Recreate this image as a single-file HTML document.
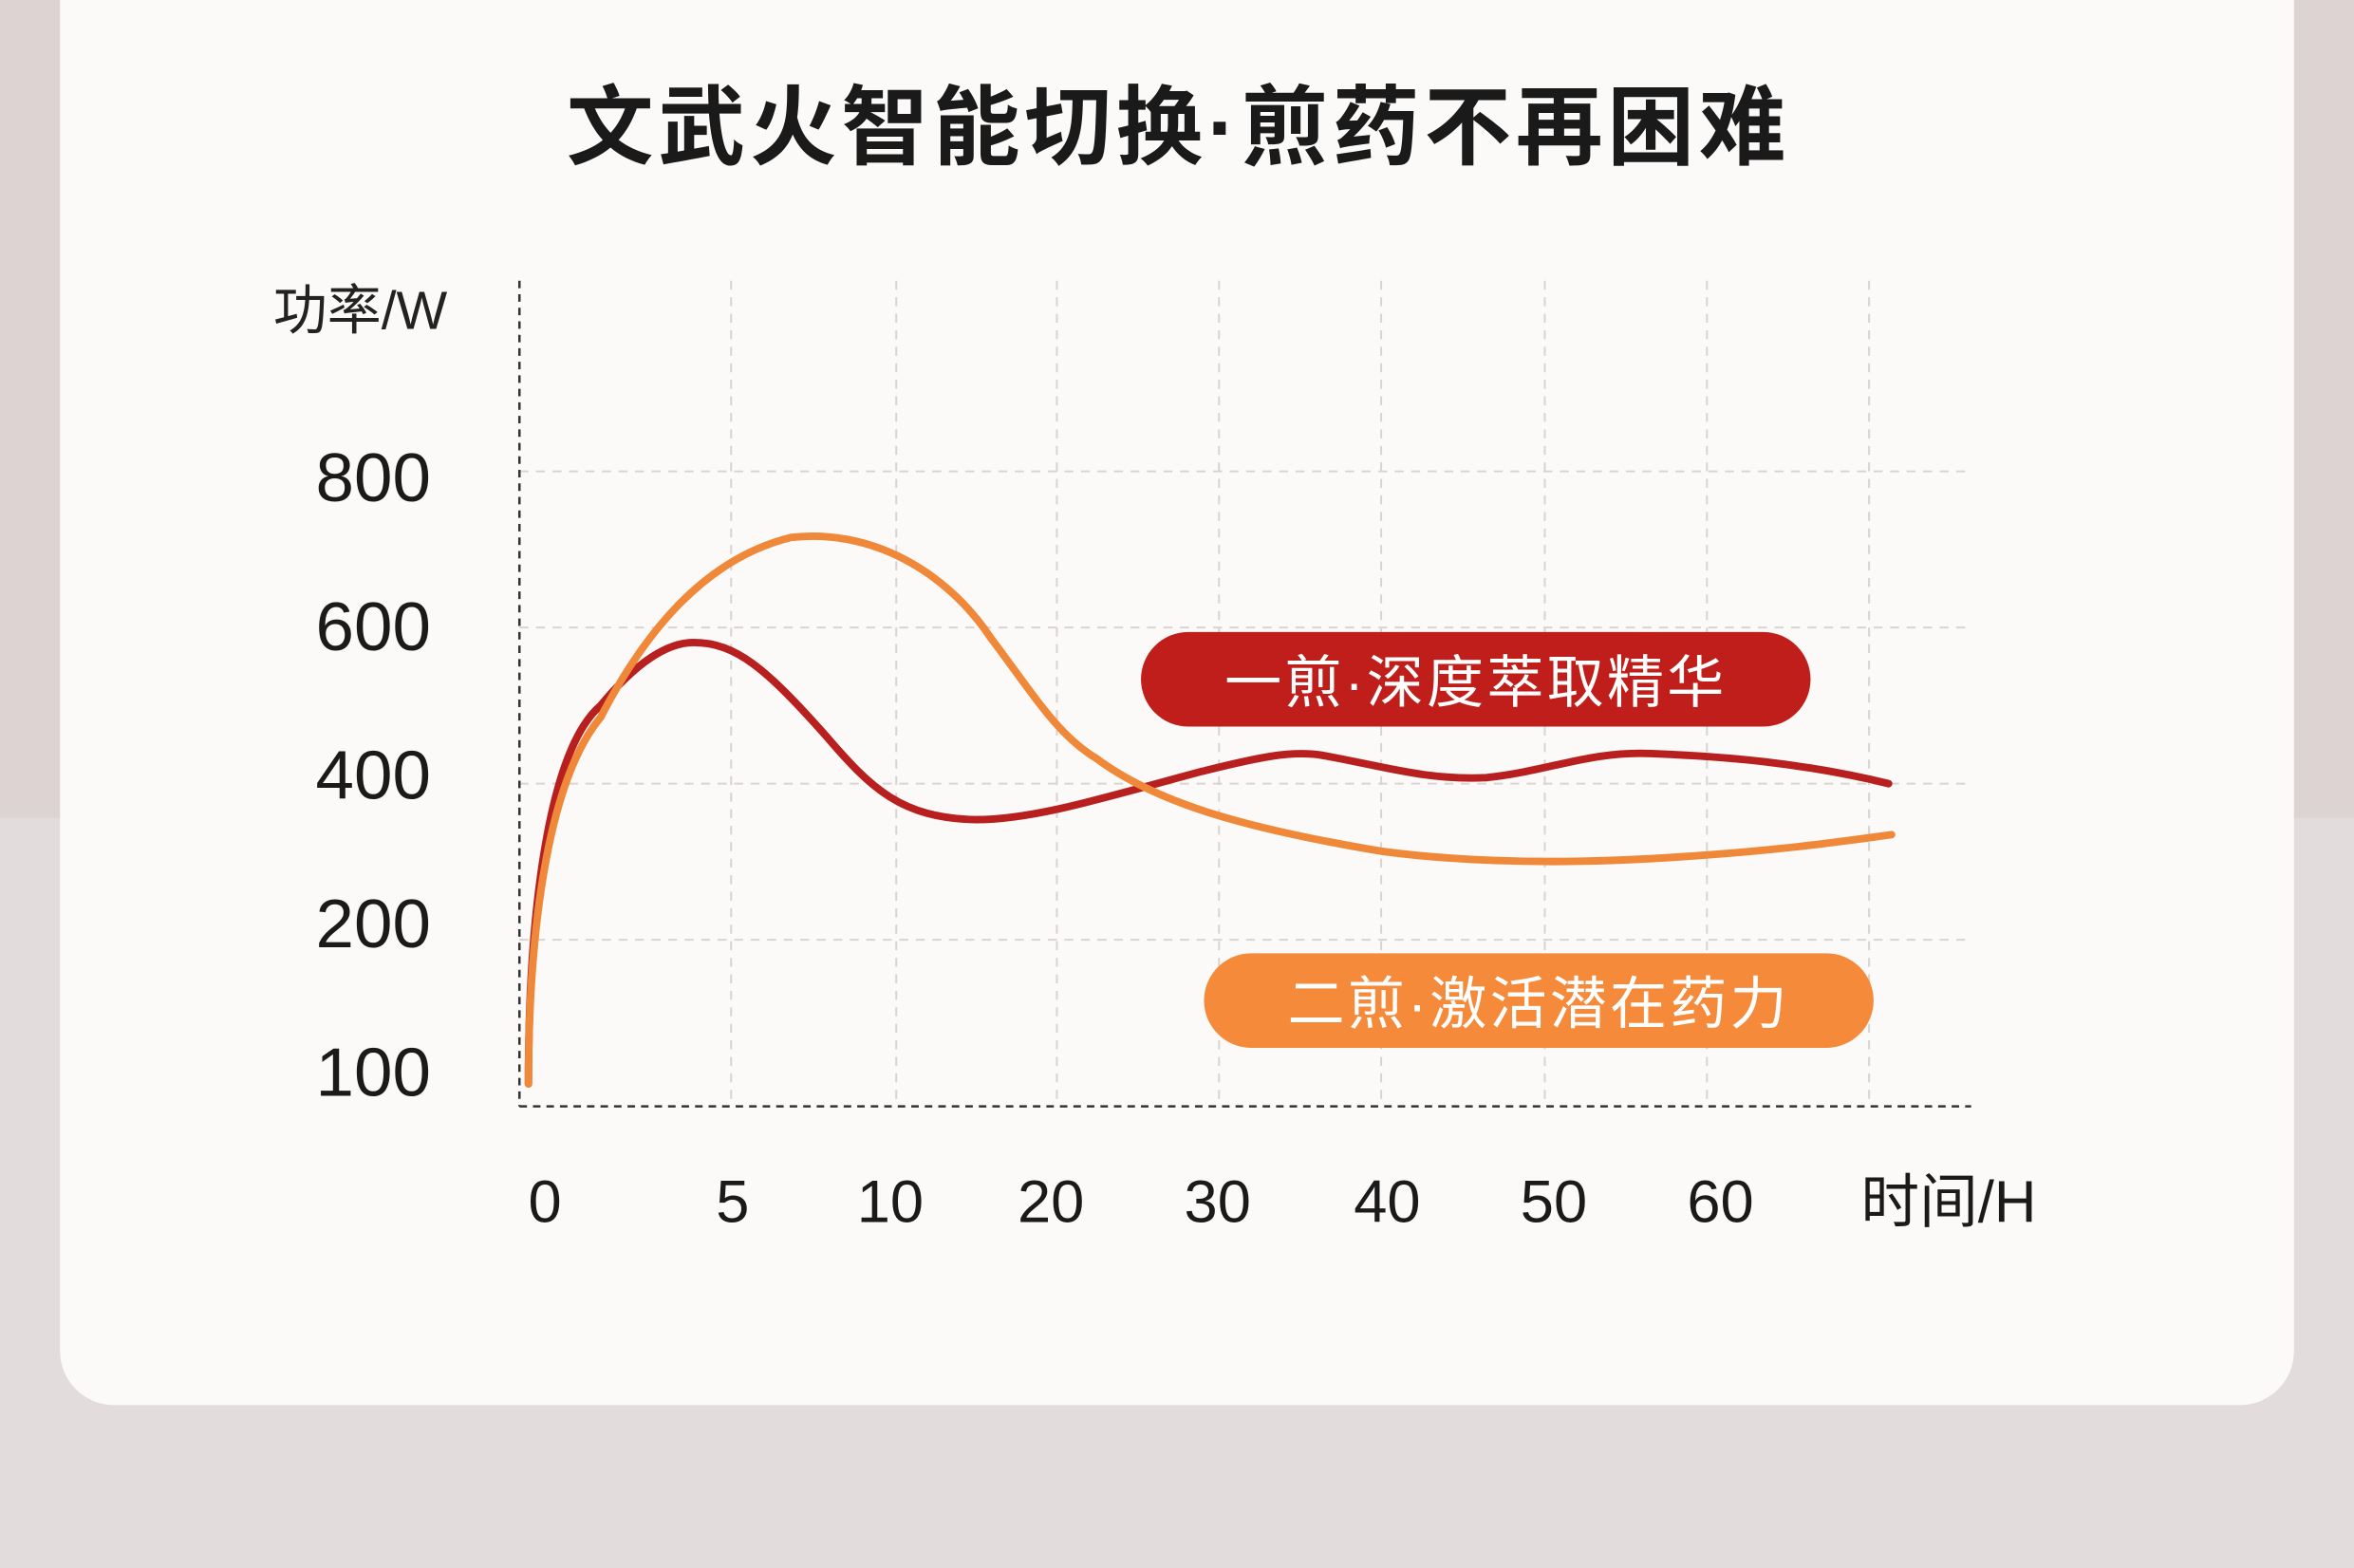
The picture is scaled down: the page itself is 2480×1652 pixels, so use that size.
<!DOCTYPE html>
<html><head><meta charset="utf-8"><style>
html,body{margin:0;padding:0;background:#e2dcdc;}
svg{display:block}
text{font-family:"Liberation Sans","Noto Sans CJK SC",sans-serif;}
</style></head><body>
<svg width="2480" height="1652" viewBox="0 0 1568 1044.5" preserveAspectRatio="none" xmlns="http://www.w3.org/2000/svg">
<rect x="0" y="0" width="1568" height="1044.5" fill="#e2dcdc"/>
<rect x="0" y="0" width="1568" height="545" fill="#dcd3d2"/>
<rect x="40" y="-40" width="1488" height="976" rx="36" fill="#fcfaf8"/>
<text x="785" y="105" text-anchor="middle" font-size="58" font-weight="bold" letter-spacing="3" fill="#1a1a1a" font-family="'Noto Sans CJK SC',sans-serif">文武火智能切换·煎药不再困难</text>
<text x="182" y="219" font-size="36" fill="#222" font-family="'Noto Sans CJK SC',sans-serif">功率/W</text>
<g font-size="46" fill="#1a1a1a" text-anchor="end">
<text x="287" y="334">800</text><text x="287" y="433">600</text><text x="287" y="532">400</text><text x="287" y="631">200</text><text x="287" y="730">100</text>
</g>
<g stroke="#d9d4d2" stroke-width="1.3" stroke-dasharray="6,5">
<line x1="346" y1="314" x2="1313" y2="314"/><line x1="346" y1="418" x2="1313" y2="418"/><line x1="346" y1="522" x2="1313" y2="522"/><line x1="346" y1="626" x2="1313" y2="626"/>
<line x1="487" y1="187" x2="487" y2="737"/><line x1="597" y1="187" x2="597" y2="737"/><line x1="704" y1="187" x2="704" y2="737"/><line x1="812" y1="187" x2="812" y2="737"/><line x1="920" y1="187" x2="920" y2="737"/><line x1="1029" y1="187" x2="1029" y2="737"/><line x1="1137" y1="187" x2="1137" y2="737"/><line x1="1245" y1="187" x2="1245" y2="737"/>
</g>
<g stroke="#333" stroke-width="1.6" stroke-dasharray="5,4">
<line x1="346" y1="187" x2="346" y2="737"/><line x1="346" y1="737" x2="1313" y2="737"/>
</g>
<g font-size="40" fill="#1a1a1a" text-anchor="middle">
<text x="363" y="814">0</text><text x="488" y="814">5</text><text x="593" y="814">10</text><text x="700" y="814">20</text><text x="811" y="814">30</text><text x="924" y="814">40</text><text x="1035" y="814">50</text><text x="1146" y="814">60</text>
<text x="1298" y="814" font-family="'Noto Sans CJK SC',sans-serif" font-size="39">时间/H</text>
</g>
<path d="M352,722 C352,610 365,500 400,470 C425,440 445,428 462,428 C490,428 510,445 550,490 C580,525 600,545 650,546 C690,546 740,530 800,514 C840,504 860,500 880,503 C920,510 950,520 990,518 C1030,514 1060,500 1100,502 C1150,504 1200,508 1258,522" fill="none" stroke="#b8201f" stroke-width="5" stroke-linecap="round"/>
<path d="M352,722 C352,620 365,520 400,478 C430,420 470,372 527,358 C580,352 630,380 660,425 C690,465 705,490 730,505 C770,535 830,552 920,567 C980,575 1050,576 1130,570 C1190,566 1230,560 1260,556" fill="none" stroke="#f0883a" stroke-width="5" stroke-linecap="round"/>
<rect x="760" y="421" width="446" height="63" rx="31.5" fill="#c01e1a"/>
<text x="983" y="468" text-anchor="middle" font-size="38" letter-spacing="2" fill="#fff" font-family="'Noto Sans CJK SC',sans-serif">一煎·深度萃取精华</text>
<rect x="802" y="635" width="446" height="63" rx="31.5" fill="#f58a3a"/>
<text x="1025" y="682" text-anchor="middle" font-size="38" letter-spacing="2" fill="#fff" font-family="'Noto Sans CJK SC',sans-serif">二煎·激活潜在药力</text>
</svg>
</body></html>
